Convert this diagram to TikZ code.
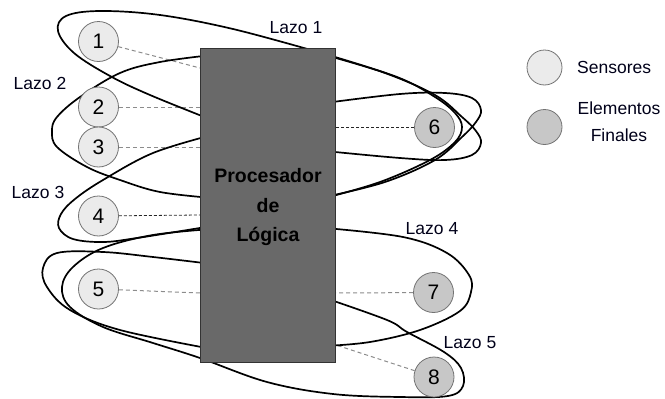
\documentclass[tikz,border=0pt]{standalone}
\usepackage{fontspec}
\setmainfont{Liberation Sans}
\pgfdeclarelayer{behind}
\pgfsetlayers{behind,main}
\begin{document}
\begin{tikzpicture}[x=1pt,y=-1pt,
  loopline/.style={line width=1.7pt, black, line cap=round},
  sensor/.style={circle, draw=black!55, line width=0.8pt, fill=black!8,
    minimum size=40pt, inner sep=0pt, font=\fontsize{21}{24}\selectfont},
  actuator/.style={sensor, fill=black!22},
  keysensor/.style={sensor, minimum size=35pt},
  keyactuator/.style={actuator, minimum size=35pt},
  link/.style={dash pattern=on 4pt off 3pt, draw=black!45, line width=1pt},
  linkdark/.style={dash pattern=on 3pt off 2pt, draw=black!85, line width=0.8pt},
  lbl/.style={font=\fontsize{17.5}{20}\selectfont, text=black!90!blue, inner sep=0pt},
  box/.style={draw=black!80, fill=black!59, line width=1pt,
    minimum width=135pt, minimum height=314pt, inner sep=0pt}
]
\useasboundingbox (0,0) rectangle (665,399);

% logic processor
\node[box] (proc) at (267.5,205) {};
\node[font=\bfseries\fontsize{19.5}{29.5}\selectfont, align=center, inner sep=0pt] (proctext) at (268,207) {Procesador\\de\\Lógica};

% sensors
\node[sensor] (s1) at (98.5,41.5) {1};
\node[sensor] (s2) at (98.5,107) {2};
\node[sensor] (s3) at (98.5,147) {3};
\node[sensor] (s4) at (98.5,216) {4};
\node[sensor] (s5) at (98.5,289) {5};

% final elements
\node[actuator] (a6) at (434.5,127.5) {6};
\node[actuator] (a7) at (433.5,292.5) {7};
\node[actuator] (a8) at (434,377) {8};

% legend
\node[keysensor] (k1) at (544.5,67.5) {};
\node[keyactuator] (k2) at (544.5,127) {};
\node[lbl, anchor=west] (k1t) at (577,67) {Sensores};
\node[lbl, align=center, font=\fontsize{17.5}{27}\selectfont] (k2t) at (619,121.5) {Elementos\\Finales};

% loop labels
\node[lbl] (l1) at (296,28) {Lazo 1};
\node[lbl] (l2) at (40,83) {Lazo 2};
\node[lbl] (l3) at (38,192) {Lazo 3};
\node[lbl] (l4) at (432,229) {Lazo 4};
\node[lbl] (l5) at (470,343) {Lazo 5};

% points where the signal lines meet the processor
\coordinate (e1) at (200,68);
\coordinate (e2) at (200,107);
\coordinate (e3) at (200,147);
\coordinate (e4) at (200,215);
\coordinate (e5) at (200,293);
\coordinate (e6) at (335,127.5);
\coordinate (e7) at (335,293);
\coordinate (e8) at (336,345);

\begin{pgfonlayer}{behind}
  % signal lines
  \draw[link] (s1) -- (e1);
  \draw[link] (s2) -- (e2);
  \draw[link] (s3) -- (e3);
  \draw[linkdark] (s4) -- (e4);
  \draw[link] (s5) -- (e5);
  \draw[linkdark] (a6) -- (e6);
  \draw[link] (a7) -- (e7);
  \draw[link] (a8) -- (e8);

  % loop 1, left side
  \draw[loopline] plot[smooth, tension=0.6] coordinates {
    (318,52) (233,29) (160,15) (100,11) (66,16) (58,31) (74,53) (110,76) (150,95) (212,120)};
  % loop 2, left side
  \draw[loopline] plot[smooth, tension=0.6] coordinates {
    (212,55) (160,62) (120,73) (80,97) (57,117) (52,131) (57,147) (87,167) (120,180) (160,192) (212,198)};
  % loop 3, left side
  \draw[loopline] plot[smooth, tension=0.6] coordinates {
    (212,135) (153,153) (103,180) (75,199) (61,214) (59,228) (73,239) (103,242) (137,238) (212,226)};
  % loop 4
  \draw[loopline] plot[smooth, tension=0.6] coordinates {
    (212,264) (153,257) (103,252) (57,253) (43,268) (47,287) (70,310) (120,330) (212,349)};
  \draw[loopline] plot[smooth, tension=0.6] coordinates {
    (325,228) (403,237) (447,253) (469,275) (471,292) (460,311) (420,330) (370,342) (325,346)};
  % loop 5
  \draw[loopline] plot[smooth, tension=0.6] coordinates {
    (212,229) (153,235) (103,248) (73,267) (62,287) (70,307) (103,327) (153,343) (200,358)
    (267,382) (333,394) (400,397) (448,396) (463,386) (461,368) (444,352) (407,332) (387,320) (325,298)};
  % loops 1 to 3, right side around element 6
  \draw[loopline] plot[smooth, tension=0.6] coordinates {
    (325,54) (397,77) (435,97) (455,113) (462,127) (455,142) (430,160) (380,182) (325,198)};
  \draw[loopline] plot[smooth, tension=0.6] coordinates {
    (325,103) (400,94) (445,93) (472,98) (481,110) (476,122) (462,137) (435,160) (385,182) (325,197)};
  \draw[loopline] plot[smooth, tension=0.6] coordinates {
    (325,151) (400,158) (445,160) (472,155) (481,143) (476,131) (462,117) (435,95) (385,73) (325,55)};
\end{pgfonlayer}
\end{tikzpicture}
\end{document}
